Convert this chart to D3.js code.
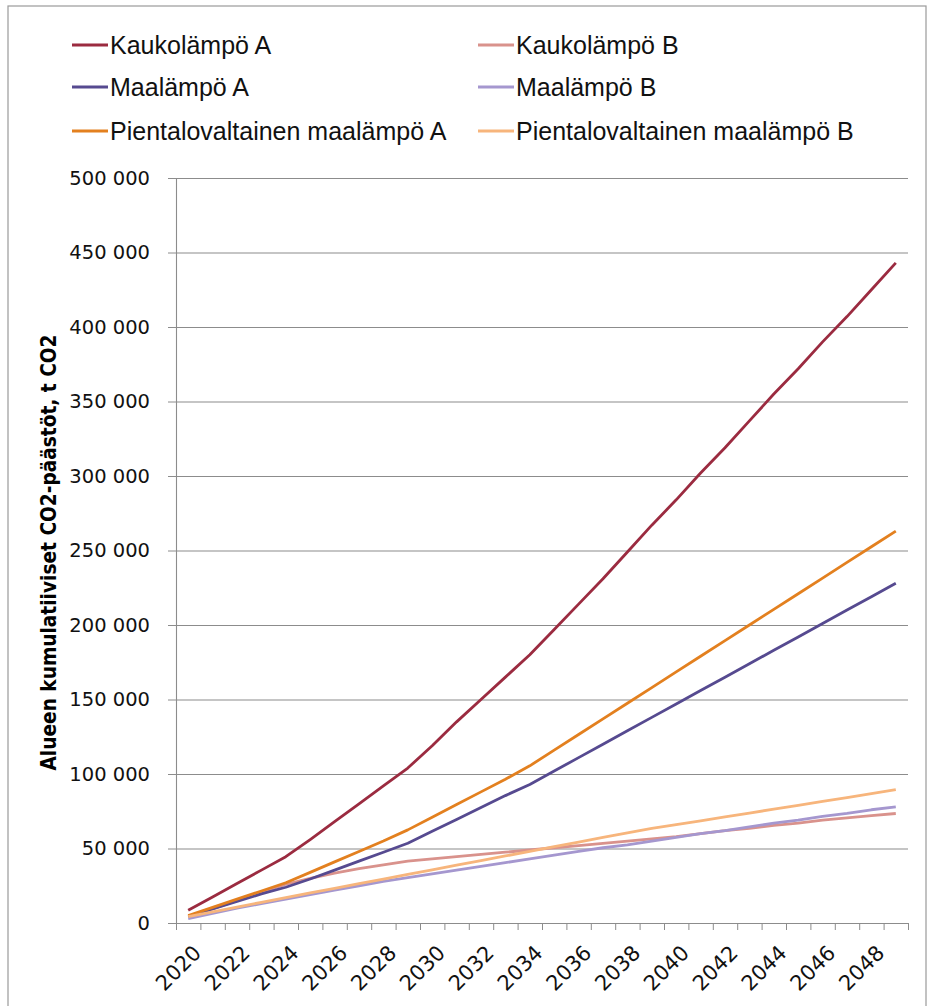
<!DOCTYPE html>
<html>
<head>
<meta charset="utf-8">
<script src="https://cdnjs.cloudflare.com/ajax/libs/d3/7.8.5/d3.min.js"></script>
<style>
  body { margin: 0; background: #fff; }
  svg { display: block; }
</style>
</head>
<body>
<svg width="931" height="1006"></svg>
<script>
// years on the category axis
var years = d3.range(2020, 2050);
var yearLabels = d3.range(2020, 2050, 2);
var yTicks = [0, 50000, 100000, 150000, 200000, 250000, 300000, 350000, 400000, 450000, 500000];

// cumulative CO2, thousand tonnes
var kaukoA = [8.5, 17.5, 26.5, 35.5, 44.5, 56, 68, 80, 92, 104, 119, 135, 150, 165, 180, 197, 214, 231, 249, 267, 284, 302, 319, 337, 355, 372, 390, 407, 425, 443];
var kaukoB = [4, 9.5, 15, 20.5, 26, 30, 33.5, 36.5, 39, 41.5, 43, 44.5, 46, 47.5, 49, 50.5, 52, 53.5, 55, 56.5, 58, 60, 62, 63.5, 65.5, 67, 69, 70.5, 72, 73.5];
var maaA = [4.5, 9.5, 14.5, 19.5, 24, 29.5, 35.5, 41.5, 47.5, 53.5, 61.5, 69.5, 77.5, 85.5, 93, 102, 111, 120, 129, 138, 147, 156, 165, 174, 183, 192, 201, 210, 219, 228];
var maaB = [3, 6.5, 10, 13, 16, 19, 22, 25, 28, 30.5, 33, 35.5, 38, 40.5, 43, 45.5, 48, 50.5, 52.5, 55, 57.5, 60, 62, 64.5, 67, 69, 71.5, 73.5, 76, 78];
var pientaloA = [5, 10.5, 16, 21.5, 27, 34, 41, 48, 55, 62.5, 71, 79.5, 88, 96.5, 105.5, 116, 126.5, 137, 147.5, 158, 168.5, 179, 189.5, 200, 210.5, 221, 231.5, 242, 252.5, 263];
var pientaloB = [4.3, 7.5, 10.7, 13.9, 17, 20.2, 23.3, 26.4, 29.5, 32.6, 35.7, 38.8, 41.9, 45, 48.1, 51.2, 54.3, 57.4, 60.5, 63.5, 66, 68.6, 71.2, 73.8, 76.4, 79, 81.6, 84.2, 86.8, 89.5];

var seriesNames = ["Kaukolämpö A", "Kaukolämpö B", "Maalämpö A", "Maalämpö B", "Pientalovaltainen maalämpö A", "Pientalovaltainen maalämpö B"];
var seriesColors = ["#9b2b40", "#d9928c", "#564a90", "#a597cf", "#e3801f", "#f7b57c"];
var seriesData = [kaukoA, kaukoB, maaA, maaB, pientaloA, pientaloB];

var svg = d3.select("svg");
var plotL = 176, plotR = 908, plotT = 178, plotB = 923;

// chart frame
svg.append("rect")
    .attr("x", 8).attr("y", 6)
    .attr("width", 918).attr("height", 1020)
    .attr("fill", "#fff")
    .attr("stroke", "#9a9a9a")
    .attr("stroke-width", 1.2);

var x = d3.scaleLinear().domain([2019.5, 2049.5]).range([plotL, plotR]);
var y = d3.scaleLinear().domain([0, 500000]).range([plotB, plotT]);

// gridlines
svg.append("g")
    .attr("transform", "translate(" + plotL + ",0)")
    .call(d3.axisLeft(y).tickValues(yTicks).tickSize(-(plotR - plotL)).tickFormat(""))
    .call(function(g) {
      g.select(".domain").remove();
      g.selectAll("line").attr("stroke", "#8c8c8c").attr("stroke-width", 1.1);
    });

// y axis
svg.append("g")
    .attr("transform", "translate(" + plotL + ",0)")
    .call(d3.axisLeft(y).tickValues(yTicks).tickSize(8).tickPadding(18)
      .tickFormat(function(d) { return d3.format(",")(d).replace(/,/g, " "); }))
    .call(function(g) {
      g.select(".domain").attr("stroke", "#8c8c8c").attr("stroke-width", 1.1);
      g.selectAll("line").attr("stroke", "#8c8c8c");
      g.selectAll("text")
        .attr("fill", "#111")
        .style("font-family", "'DejaVu Sans', sans-serif")
        .style("font-size", "19.5px");
    });

// x axis: ticks between categories
svg.append("g")
    .attr("transform", "translate(0," + plotB + ")")
    .call(d3.axisBottom(x).tickValues(d3.range(2019.5, 2050, 1)).tickSize(7).tickSizeOuter(0).tickFormat(""))
    .call(function(g) {
      g.select(".domain").attr("stroke", "#8c8c8c").attr("stroke-width", 1.1);
      g.selectAll("line").attr("stroke", "#8c8c8c");
    });

svg.append("g").selectAll("text")
  .data(yearLabels)
  .enter().append("text")
    .attr("transform", function(d) { return "translate(" + (x(d) + 9) + "," + (plotB + 26) + ") rotate(-45)"; })
    .attr("text-anchor", "end")
    .attr("dy", "0.35em")
    .attr("fill", "#111")
    .style("font-family", "'DejaVu Sans', sans-serif")
    .style("font-size", "21px")
    .text(function(d) { return d; });

// y title
svg.append("text")
    .attr("transform", "translate(56," + ((plotT + plotB) / 2 + 2) + ") rotate(-90)")
    .attr("text-anchor", "middle")
    .attr("fill", "#000")
    .attr("textLength", 436)
    .attr("lengthAdjust", "spacingAndGlyphs")
    .style("font-family", "'DejaVu Sans Condensed', sans-serif")
    .style("font-weight", "bold")
    .style("font-size", "22px")
    .text("Alueen kumulatiiviset CO2-päästöt, t CO2");

// lines
var line = d3.line()
    .x(function(d, i) { return x(years[i]); })
    .y(function(d) { return y(d * 1000); });

svg.append("g").selectAll("path")
  .data(seriesData)
  .enter().append("path")
    .attr("d", line)
    .attr("fill", "none")
    .attr("stroke", function(d, i) { return seriesColors[i]; })
    .attr("stroke-width", 2.8)
    .attr("stroke-linejoin", "round");

// legend, two columns
var legend = svg.append("g").selectAll("g")
  .data(seriesNames)
  .enter().append("g")
    .attr("transform", function(d, i) {
      return "translate(" + (i % 2 === 0 ? 72 : 478) + "," + [45, 87, 131][Math.floor(i / 2)] + ")";
    });

legend.append("line")
    .attr("x1", 0).attr("x2", 36)
    .attr("stroke", function(d, i) { return seriesColors[i]; })
    .attr("stroke-width", 3);

legend.append("text")
    .attr("x", 38)
    .attr("dy", "0.35em")
    .attr("fill", "#111")
    .style("font-family", "'Liberation Sans', Arial, sans-serif")
    .style("font-size", "25px")
    .text(function(d) { return d; });
</script>
</body>
</html>
